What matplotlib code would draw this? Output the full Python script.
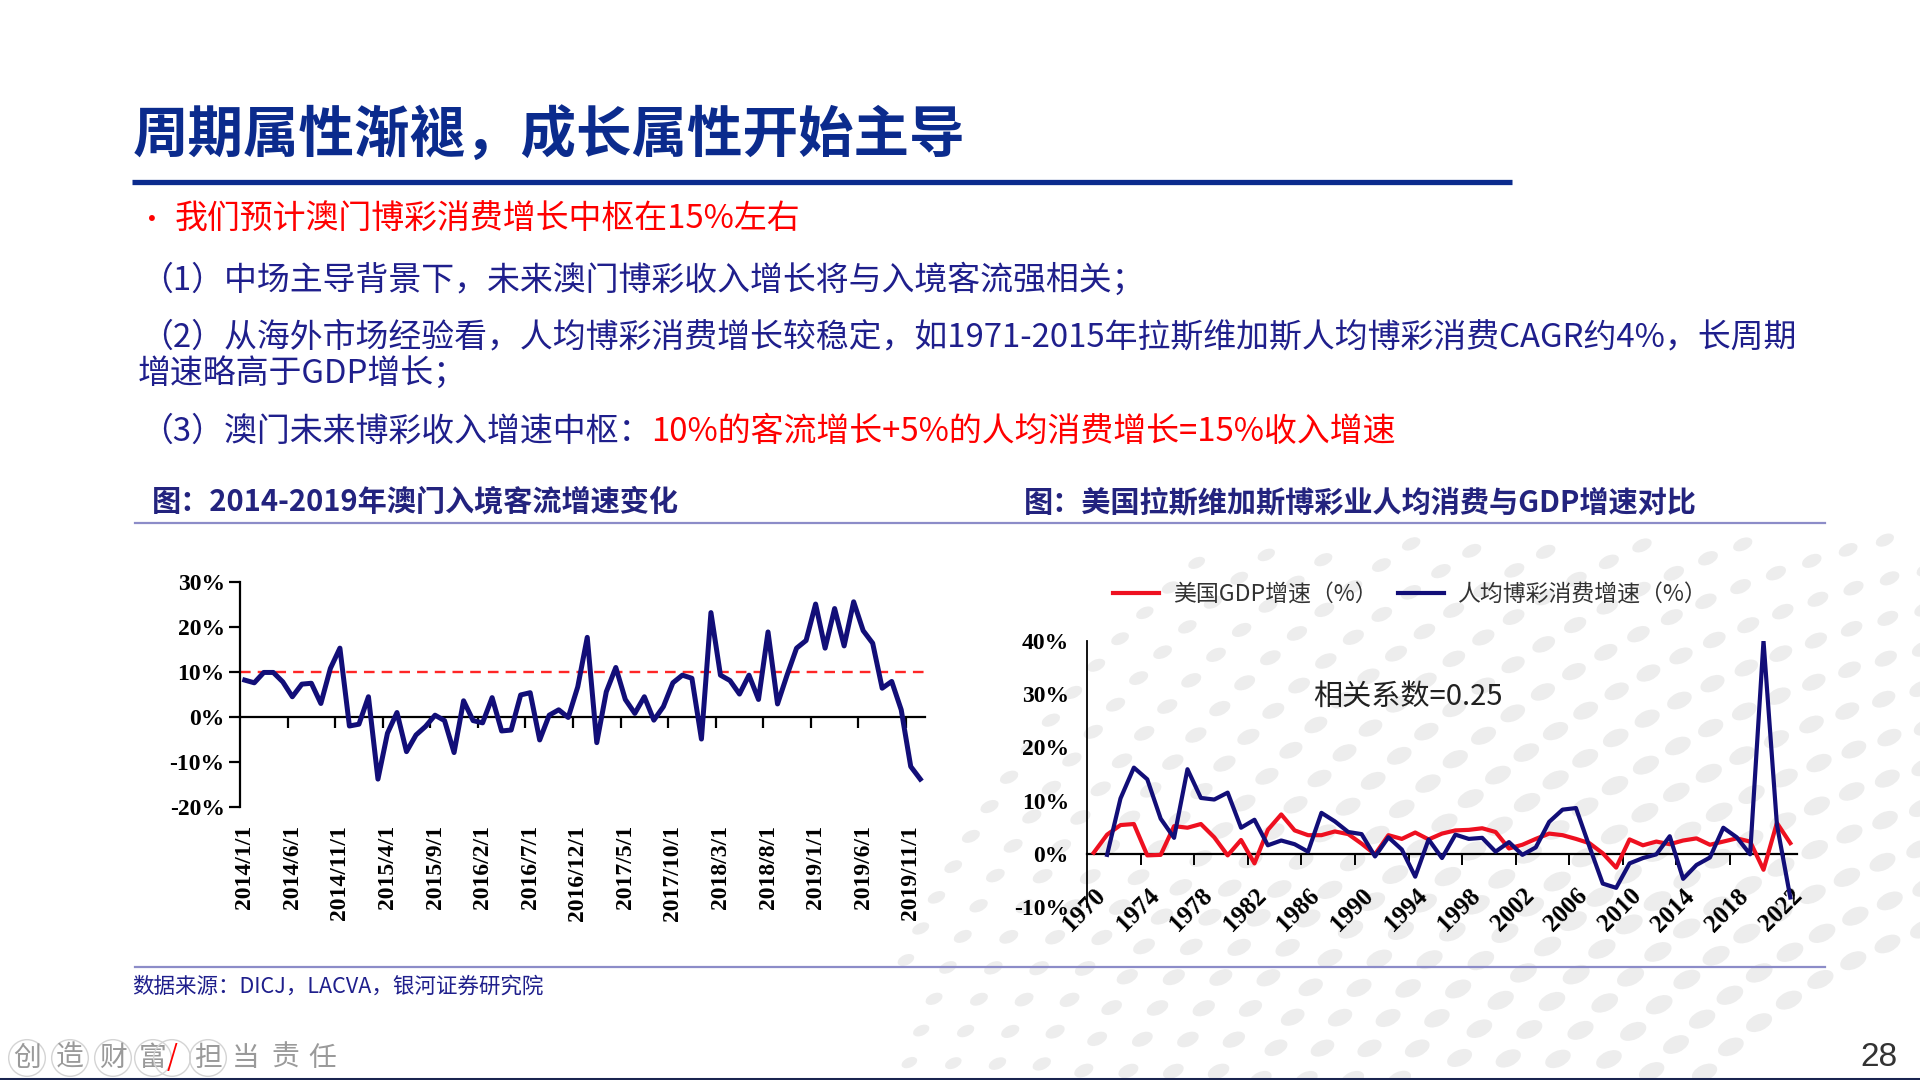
import numpy as np
import matplotlib
matplotlib.use('Agg')
import matplotlib.pyplot as plt
from matplotlib.ticker import FuncFormatter
from matplotlib.path import Path
from matplotlib.transforms import Affine2D

# fonts: tick labels in bold serif, every text passes its own family
plt.rcParams['font.family'] = ['Liberation Serif', 'DejaVu Serif']
plt.rcParams['font.weight'] = 'bold'
CJK = ['Noto Sans CJK SC', 'DejaVu Sans']

# ---- data: left chart, monthly visitor arrivals growth (%) 2014/1 - 2019/12
left_tick_labels = ['2014/1/1', '2014/6/1', '2014/11/1', '2015/4/1', '2015/9/1',
                    '2016/2/1', '2016/7/1', '2016/12/1', '2017/5/1', '2017/10/1',
                    '2018/3/1', '2018/8/1', '2019/1/1', '2019/6/1', '2019/11/1']
visitor_growth = [8.2, 7.6, 9.9, 9.9, 7.8, 4.5, 7.3, 7.5, 3.0, 10.8, 15.3, -2.0,
                  -1.6, 4.5, -13.8, -3.6, 1.0, -7.7, -4.0, -2.1, 0.4, -0.8, -7.9, 3.6,
                  -0.8, -1.3, 4.3, -3.1, -2.9, 4.9, 5.4, -5.1, 0.4, 1.6, -0.1, 6.7,
                  17.7, -5.7, 5.6, 11.0, 3.9, 0.8, 4.5, -0.7, 2.3, 7.6, 9.3, 8.6,
                  -4.9, 23.2, 9.3, 8.1, 5.1, 9.3, 3.9, 18.9, 2.9, 9.3, 15.3, 17.0,
                  25.1, 15.3, 24.1, 15.8, 25.6, 19.2, 16.4, 6.4, 7.9, 1.6, -11.0, -13.8]
target_line = 10

# ---- data: right chart, yearly growth (%) 1970 - 2022
years = list(range(1970, 2023))
right_tick_labels = [str(y) for y in range(1970, 2023, 4)]
gdp_growth = [0.2, 3.6, 5.4, 5.6, -0.3, -0.2, 5.2, 4.9, 5.6, 3.1,
              -0.3, 2.6, -1.8, 4.5, 7.4, 4.4, 3.5, 3.5, 4.2, 3.7,
              1.9, -0.1, 3.5, 2.8, 4.0, 2.7, 3.8, 4.4, 4.5, 4.8,
              4.1, 1.0, 1.7, 2.8, 3.8, 3.5, 2.8, 2.0, 0.1, -2.6,
              2.7, 1.6, 2.3, 1.8, 2.5, 2.9, 1.7, 2.3, 2.9, 2.3,
              -3.0, 5.8, 2.0]
gaming_growth = [np.nan, -0.2, 10.4, 16.2, 14.0, 6.6, 3.0, 15.9, 10.5, 10.2,
                 11.5, 4.9, 6.4, 1.6, 2.5, 1.8, 0.4, 7.7, 6.1, 4.1,
                 3.7, -0.5, 3.1, 0.8, -4.3, 2.7, -0.8, 3.6, 2.8, 3.0,
                 0.4, 2.2, -0.2, 1.2, 6.0, 8.3, 8.6, 1.4, -5.6, -6.4,
                 -1.8, -0.8, -0.1, 3.3, -4.7, -2.1, -0.7, 4.9, 3.1, -0.1,
                 40.0, 5.5, -8.2]

footer_chars = ['创', '造', '财', '富', '/', '担', '当', '责', '任']

NAVY = '#120e78'
RED = '#ee1020'
TXT = '#1f1f8c'
TITLE = '#0b2b8d'

W, H = 1920, 1080
fig = plt.figure(figsize=(W / 100, H / 100), dpi=100)
fig.patch.set_facecolor('white')

def fx(x): return x / W
def fy(y): return 1 - y / H

# background layer in pixel coords (decorative dots + rules)
bg = fig.add_axes([0, 0, 1, 1], zorder=-5)
bg.set_xlim(0, W); bg.set_ylim(H, 0); bg.axis('off')
oval = Path.unit_circle().transformed(Affine2D().scale(1.7, 1.0).rotate_deg(25))
cx, cy = 2150, 1420
for r in np.arange(560, 1300, 40):
    n = int(r * np.pi / 2 / 36)
    th = np.linspace(0.05, np.pi / 2, n)
    xs = cx - r * np.cos(th) * 1.05
    ys = cy - r * np.sin(th) * 0.95
    f = np.exp(-((xs - 1640) ** 2 / (2 * 520 ** 2) + (ys - 900) ** 2 / (2 * 300 ** 2)))
    keep = (f > 0.2) & (ys > 540) & (xs > 900)
    bg.scatter(xs[keep], ys[keep], s=420 * f[keep], color='#ededed', edgecolors='none', marker=oval)

bg.plot([132, 1512], [181.5, 181.5], color=TITLE, lw=3.8, solid_capstyle='butt')
bg.plot([135, 1825], [523, 523], color='#8c8cc8', lw=1.6)
bg.plot([135, 1825], [967, 967], color='#8c8cc8', lw=1.6)
bg.plot([0, W], [1079, 1079], color='#1a2550', lw=2.2)

# ---- header texts
fig.text(fx(133), fy(136), '周期属性渐褪，成长属性开始主导', family=CJK, weight='bold',
         size=40, color=TITLE, va='center', ha='left')
fig.text(fx(138), fy(221), '•', family=CJK, weight='normal', size=20, color='#ff0000', va='center')
fig.text(fx(175), fy(220), '我们预计澳门博彩消费增长中枢在15%左右', family=CJK, weight='normal',
         size=23.7, color='#ff0000', va='center')
fig.text(fx(140), fy(280), '（1）中场主导背景下，未来澳门博彩收入增长将与入境客流强相关；', family=CJK,
         weight='normal', size=23.7, color=TXT, va='center')
fig.text(fx(140), fy(337), '（2）从海外市场经验看，人均博彩消费增长较稳定，如1971-2015年拉斯维加斯人均博彩消费CAGR约4%，长周期',
         family=CJK, weight='normal', size=23.7, color=TXT, va='center')
fig.text(fx(138), fy(373), '增速略高于GDP增长；', family=CJK, weight='normal', size=23.7, color=TXT, va='center')
t3 = fig.text(fx(140), fy(432), '（3）澳门未来博彩收入增速中枢：', family=CJK, weight='normal',
              size=23.7, color=TXT, va='center')
rend = fig.canvas.get_renderer()
bb = t3.get_window_extent(rend)
fig.text(bb.x1 / W, fy(432), '10%的客流增长+5%的人均消费增长=15%收入增速', family=CJK, weight='normal',
         size=23.7, color='#ff0000', va='center')

fig.text(fx(152), fy(502), '图：2014-2019年澳门入境客流增速变化', family=CJK, weight='bold',
         size=21, color='#23237e', va='center')
fig.text(fx(1024), fy(502), '图：美国拉斯维加斯博彩业人均消费与GDP增速对比', family=CJK, weight='bold',
         size=21, color='#23237e', va='center')
fig.text(fx(132), fy(987), '数据来源：DICJ，LACVA，银河证券研究院', family=CJK, weight='normal',
         size=15.5, color=TXT, va='center')

# footer
fpos = [27, 70, 113, 153, 172, 208, 246, 285, 322]
for i, ch in enumerate(footer_chars):
    col = '#ff0000' if ch == '/' else '#9a9a9a'
    box = dict(boxstyle='circle,pad=0.12', fc='none', ec='#d4d4d4', lw=1) if i < 6 else None
    fig.text(fx(fpos[i]), fy(1058), ch, family=CJK, weight='normal', size=20, color=col,
             ha='center', va='center', bbox=box)
fig.text(fx(1897), fy(1058), '28', family=['Liberation Sans'], weight='normal', size=24,
         color='#333333', ha='right', va='center')

pct = FuncFormatter(lambda v, p: '%d%%' % v)

# ---- left chart
ax1 = fig.add_axes([fx(240), fy(807), 685 / W, 225 / H])
ax1.set_facecolor('none')
x1 = np.arange(len(visitor_growth))
ax1.plot(x1, visitor_growth, color=NAVY, lw=3.6, zorder=3)
ax1.axhline(target_line, color='#ff2626', lw=1.7, ls=(0, (4.5, 3)), zorder=2)
ax1.set_xlim(-0.5, len(visitor_growth) - 0.5)
ax1.set_ylim(-20, 30)
for s in ['top', 'right']:
    ax1.spines[s].set_visible(False)
ax1.spines['bottom'].set_position(('data', 0))
ax1.spines['left'].set_linewidth(1.6)
ax1.spines['bottom'].set_linewidth(1.6)
ax1.set_yticks([-20, -10, 0, 10, 20, 30])
ax1.yaxis.set_major_formatter(pct)
ax1.tick_params(axis='y', direction='out', length=8, width=1.6, pad=3, labelsize=17)
ax1.set_xticks(np.arange(4.5, len(visitor_growth), 5))
ax1.tick_params(axis='x', direction='out', length=8, width=1.6, labelbottom=False)
sec = ax1.secondary_xaxis(0.0)
sec.set_xticks(np.arange(0, len(visitor_growth), 5), left_tick_labels)
sec.tick_params(length=0, pad=13, labelsize=17, labelrotation=90)
sec.spines['bottom'].set_visible(False)

# ---- right chart
ax2 = fig.add_axes([fx(1087), fy(907), 710 / W, 266 / H])
ax2.set_facecolor('none')
x2 = np.arange(len(years))
ax2.plot(x2, gdp_growth, color=RED, lw=3.0, label='美国GDP增速（%）', zorder=3)
ax2.plot(x2, gaming_growth, color=NAVY, lw=3.0, label='人均博彩消费增速（%）', zorder=4)
ax2.set_xlim(-0.5, len(years) - 0.5)
ax2.set_ylim(-10, 40)
for s in ['top', 'right']:
    ax2.spines[s].set_visible(False)
ax2.spines['bottom'].set_position(('data', 0))
ax2.spines['left'].set_linewidth(1.3)
ax2.spines['bottom'].set_linewidth(1.6)
ax2.set_yticks([-10, 0, 10, 20, 30, 40])
ax2.yaxis.set_major_formatter(pct)
ax2.tick_params(axis='y', length=0, pad=13, labelsize=17)
ax2.set_xticks(np.arange(0, len(years), 4), right_tick_labels)
ax2.set_xticks(np.arange(3.5, len(years), 4), minor=True)
ax2.tick_params(axis='x', which='major', length=0, pad=22, labelsize=18)
ax2.tick_params(axis='x', which='minor', direction='out', length=8, width=1.4)
for lab in ax2.get_xticklabels():
    lab.set_rotation(45)
    lab.set_ha('right')
    lab.set_va('top')
    lab.set_rotation_mode('anchor')
ax2.text(0.318, 0.789, '相关系数=0.25', transform=ax2.transAxes, family=CJK, weight='normal',
         size=21, color='#222222', va='center', ha='left')
leg = ax2.legend(loc='center left', bbox_to_anchor=(fx(1113), fy(595)), bbox_transform=fig.transFigure,
                 ncol=2, frameon=False, handlelength=2.0, handletextpad=0.6, columnspacing=0.9,
                 borderaxespad=0, borderpad=0,
                 prop={'family': CJK, 'size': 16.5, 'weight': 'normal'})
for t in leg.get_texts():
    t.set_color('#333333')

fig.savefig('out.png', dpi=100)
